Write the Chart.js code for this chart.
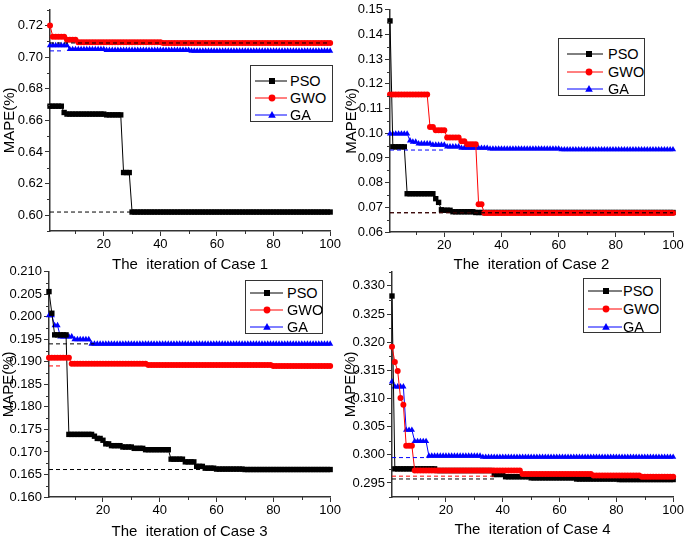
<!DOCTYPE html>
<html><head><meta charset="utf-8">
<script src="https://cdn.jsdelivr.net/npm/chart.js@4.4.1/dist/chart.umd.min.js"></script>
<style>
html,body{margin:0;padding:0;background:#fff;overflow:hidden;width:685px;height:536px;position:relative;}
canvas{position:absolute;}
.leg{position:absolute;border:1px solid #333;background:#fff;font-family:'Liberation Sans',Arial,sans-serif;font-size:14.5px;color:#000;box-sizing:border-box;}
.row{position:absolute;left:0;height:16px;line-height:16px;white-space:nowrap;}
.row svg{position:absolute;top:0;}
.row span{position:absolute;top:0;}
</style></head><body>
<canvas id="c1"></canvas><canvas id="c2"></canvas><canvas id="c3"></canvas><canvas id="c4"></canvas>
<script>
// ---------------- DATA ----------------
const seriesNames = ['PSO','GWO','GA'];
const iterations = Array.from({length:100},(_,i)=>i+1);
const xMajorTicks = [20,40,60,80,100];
const xMinorTicks = [10,30,50,70,90];

// Case 1
const case1PSO = [0.669,0.669,0.669,0.669,0.669,0.665,0.664,0.664,0.664,0.664,
0.664,0.664,0.664,0.664,0.664,0.664,0.664,0.664,0.664,0.664,
0.6635,0.6635,0.6635,0.6635,0.6635,0.6635,0.627,0.627,0.627,0.602,
0.602,0.602,0.602,0.602,0.602,0.602,0.602,0.602,0.602,0.602,
0.602,0.602,0.602,0.602,0.602,0.602,0.602,0.602,0.602,0.602,
0.602,0.602,0.602,0.602,0.602,0.602,0.602,0.602,0.602,0.602,
0.602,0.602,0.602,0.602,0.602,0.602,0.602,0.602,0.602,0.602,
0.602,0.602,0.602,0.602,0.602,0.602,0.602,0.602,0.602,0.602,
0.602,0.602,0.602,0.602,0.602,0.602,0.602,0.602,0.602,0.602,
0.602,0.602,0.602,0.602,0.602,0.602,0.602,0.602,0.602,0.602];
const case1GWO = [0.720,0.713,0.713,0.713,0.713,0.713,0.711,0.711,0.711,0.711,
0.7095,0.7095,0.7095,0.7095,0.7095,0.7095,0.7095,0.7095,0.7095,0.7095,
0.7095,0.7095,0.7095,0.7095,0.7095,0.7095,0.7095,0.7095,0.7095,0.7095,
0.7095,0.7095,0.7095,0.7095,0.7095,0.7095,0.7095,0.7095,0.7095,0.7095,
0.709,0.709,0.709,0.709,0.709,0.709,0.709,0.709,0.709,0.709,
0.709,0.709,0.709,0.709,0.709,0.709,0.709,0.709,0.709,0.709,
0.709,0.709,0.709,0.709,0.709,0.709,0.709,0.709,0.709,0.709,
0.709,0.709,0.709,0.709,0.709,0.709,0.709,0.709,0.709,0.709,
0.709,0.709,0.709,0.709,0.709,0.709,0.709,0.709,0.709,0.709,
0.709,0.709,0.709,0.709,0.709,0.709,0.709,0.709,0.709,0.709];
const case1GA = [0.7075,0.7075,0.7075,0.7075,0.7075,0.7075,0.7075,0.705,0.705,0.705,
0.705,0.705,0.705,0.705,0.705,0.705,0.705,0.705,0.705,0.705,
0.7045,0.7045,0.7045,0.7045,0.7045,0.7045,0.7045,0.7045,0.7045,0.7045,
0.7045,0.7045,0.7045,0.7045,0.7045,0.7045,0.7045,0.7045,0.7045,0.7045,
0.7045,0.7045,0.7045,0.7045,0.7045,0.7045,0.7045,0.7045,0.7045,0.7045,
0.704,0.704,0.704,0.704,0.704,0.704,0.704,0.704,0.704,0.704,
0.704,0.704,0.704,0.704,0.704,0.704,0.704,0.704,0.704,0.704,
0.704,0.704,0.704,0.704,0.704,0.704,0.704,0.704,0.704,0.704,
0.704,0.704,0.704,0.704,0.704,0.704,0.704,0.704,0.704,0.704,
0.704,0.704,0.704,0.704,0.704,0.704,0.704,0.704,0.704,0.704];
const case1RefValues = [0.602,0.709,0.704];
const case1RefEnds = [30,100,6];
const case1YMajor = [0.60,0.62,0.64,0.66,0.68,0.70,0.72];
const case1YMinor = [0.59,0.61,0.63,0.65,0.67,0.69,0.71,0.73];

// Case 2
const case2PSO = [0.1455,0.0945,0.0945,0.0945,0.0945,0.0945,0.0755,0.0755,0.0755,0.0755,
0.0755,0.0755,0.0755,0.0755,0.0755,0.0755,0.0735,0.0720,0.0690,0.0688,
0.0688,0.0688,0.0682,0.0682,0.0682,0.0682,0.0682,0.0682,0.0682,0.0682,
0.0679,0.0679,0.0679,0.0679,0.0679,0.0679,0.0679,0.0679,0.0679,0.0679,
0.0679,0.0679,0.0679,0.0679,0.0679,0.0679,0.0679,0.0679,0.0679,0.0679,
0.0679,0.0679,0.0679,0.0679,0.0679,0.0679,0.0679,0.0679,0.0679,0.0679,
0.0679,0.0679,0.0679,0.0679,0.0679,0.0679,0.0679,0.0679,0.0679,0.0679,
0.0679,0.0679,0.0679,0.0679,0.0679,0.0679,0.0679,0.0679,0.0679,0.0679,
0.0679,0.0679,0.0679,0.0679,0.0679,0.0679,0.0679,0.0679,0.0679,0.0679,
0.0679,0.0679,0.0679,0.0679,0.0679,0.0679,0.0679,0.0679,0.0679,0.0679];
const case2GWO = [0.1157,0.1157,0.1157,0.1157,0.1157,0.1157,0.1157,0.1157,0.1157,0.1157,
0.1157,0.1157,0.1157,0.1157,0.1025,0.1025,0.1012,0.1012,0.1012,0.1012,
0.0983,0.0983,0.0983,0.0983,0.0983,0.0968,0.0968,0.0955,0.0955,0.0955,
0.0955,0.0712,0.0712,0.0677,0.0677,0.0677,0.0677,0.0677,0.0677,0.0677,
0.0677,0.0677,0.0677,0.0677,0.0677,0.0677,0.0677,0.0677,0.0677,0.0677,
0.0677,0.0677,0.0677,0.0677,0.0677,0.0677,0.0677,0.0677,0.0677,0.0677,
0.0677,0.0677,0.0677,0.0677,0.0677,0.0677,0.0677,0.0677,0.0677,0.0677,
0.0677,0.0677,0.0677,0.0677,0.0677,0.0677,0.0677,0.0677,0.0677,0.0677,
0.0677,0.0677,0.0677,0.0677,0.0677,0.0677,0.0677,0.0677,0.0677,0.0677,
0.0677,0.0677,0.0677,0.0677,0.0677,0.0677,0.0677,0.0677,0.0677,0.0677];
const case2GA = [0.0998,0.0998,0.0998,0.0998,0.0998,0.0998,0.0998,0.0970,0.0965,0.0965,
0.0958,0.0958,0.0958,0.0958,0.0958,0.0953,0.0953,0.0953,0.0953,0.0953,
0.0946,0.0946,0.0946,0.0946,0.0946,0.0940,0.0940,0.0940,0.0940,0.0940,
0.0940,0.0940,0.0940,0.0940,0.0940,0.0937,0.0937,0.0937,0.0937,0.0937,
0.0937,0.0937,0.0937,0.0937,0.0937,0.0937,0.0937,0.0937,0.0937,0.0937,
0.0937,0.0937,0.0937,0.0937,0.0937,0.0937,0.0937,0.0937,0.0937,0.0937,
0.0934,0.0934,0.0934,0.0934,0.0934,0.0934,0.0934,0.0934,0.0934,0.0934,
0.0934,0.0934,0.0934,0.0934,0.0934,0.0934,0.0934,0.0934,0.0934,0.0934,
0.0934,0.0934,0.0934,0.0934,0.0934,0.0934,0.0934,0.0934,0.0934,0.0934,
0.0934,0.0934,0.0934,0.0934,0.0934,0.0934,0.0934,0.0934,0.0934,0.0934];
const case2RefValues = [0.0678,0.0678,0.0932];
const case2RefEnds = [100,100,20];
const case2YMajor = [0.06,0.07,0.08,0.09,0.10,0.11,0.12,0.13,0.14,0.15];
const case2YMinor = [0.065,0.075,0.085,0.095,0.105,0.115,0.125,0.135,0.145];

// Case 3
const case3PSO = [0.2056,0.2008,0.1960,0.1960,0.1960,0.1960,0.1960,0.1739,0.1739,0.1739,
0.1739,0.1739,0.1739,0.1739,0.1739,0.1739,0.1735,0.1730,0.1730,0.1726,
0.1718,0.1718,0.1714,0.1714,0.1714,0.1714,0.1711,0.1711,0.1711,0.1711,
0.1708,0.1708,0.1708,0.1708,0.1705,0.1705,0.1705,0.1705,0.1705,0.1705,
0.1705,0.1705,0.1705,0.1684,0.1684,0.1684,0.1684,0.1684,0.1678,0.1678,
0.1678,0.1678,0.1668,0.1668,0.1668,0.1664,0.1664,0.1664,0.1664,0.1662,
0.1662,0.1662,0.1662,0.1662,0.1662,0.1662,0.1662,0.1662,0.1662,0.1661,
0.1661,0.1661,0.1661,0.1661,0.1661,0.1661,0.1661,0.1661,0.1661,0.1661,
0.1661,0.1661,0.1661,0.1661,0.1661,0.1661,0.1661,0.1661,0.1661,0.1661,
0.1661,0.1661,0.1661,0.1661,0.1661,0.1661,0.1661,0.1661,0.1661,0.1661];
const case3GWO = [0.1909,0.1909,0.1909,0.1909,0.1909,0.1909,0.1909,0.1909,0.1896,0.1896,
0.1896,0.1896,0.1896,0.1896,0.1896,0.1896,0.1896,0.1896,0.1896,0.1896,
0.1896,0.1896,0.1896,0.1896,0.1896,0.1896,0.1896,0.1896,0.1896,0.1896,
0.1896,0.1896,0.1896,0.1896,0.1896,0.1893,0.1893,0.1893,0.1893,0.1893,
0.1893,0.1893,0.1893,0.1893,0.1893,0.1893,0.1893,0.1893,0.1893,0.1893,
0.1893,0.1893,0.1893,0.1893,0.1893,0.1893,0.1893,0.1893,0.1893,0.1893,
0.1893,0.1893,0.1893,0.1893,0.1893,0.1893,0.1893,0.1893,0.1893,0.1893,
0.1893,0.1893,0.1893,0.1893,0.1893,0.1893,0.1893,0.1893,0.1893,0.1891,
0.1891,0.1891,0.1891,0.1891,0.1891,0.1891,0.1891,0.1891,0.1891,0.1891,
0.1891,0.1891,0.1891,0.1891,0.1891,0.1891,0.1891,0.1891,0.1891,0.1891];
const case3GA = [0.2003,0.2003,0.1981,0.1981,0.1956,0.1956,0.1956,0.1956,0.1956,0.1950,
0.1950,0.1950,0.1950,0.1950,0.1950,0.1940,0.1940,0.1940,0.1940,0.1940,
0.1940,0.1940,0.1940,0.1940,0.1940,0.1940,0.1940,0.1940,0.1940,0.1940,
0.1940,0.1940,0.1940,0.1940,0.1940,0.1940,0.1940,0.1940,0.1940,0.1940,
0.1940,0.1940,0.1940,0.1940,0.1940,0.1940,0.1940,0.1940,0.1940,0.1940,
0.1940,0.1940,0.1940,0.1940,0.1940,0.1940,0.1940,0.1940,0.1940,0.1940,
0.1940,0.1940,0.1940,0.1940,0.1940,0.1940,0.1940,0.1940,0.1940,0.1940,
0.1940,0.1940,0.1940,0.1940,0.1940,0.1940,0.1940,0.1940,0.1940,0.1940,
0.1940,0.1940,0.1940,0.1940,0.1940,0.1940,0.1940,0.1940,0.1940,0.1940,
0.1940,0.1940,0.1940,0.1940,0.1940,0.1940,0.1940,0.1940,0.1940,0.1940];
const case3RefValues = [0.1661,0.1891,0.1940];
const case3RefEnds = [56,5,17];
const case3YMajor = [0.160,0.165,0.170,0.175,0.180,0.185,0.190,0.195,0.200,0.205,0.210];
const case3YMinor = [0.1625,0.1675,0.1725,0.1775,0.1825,0.1875,0.1925,0.1975,0.2025,0.2075];

// Case 4
const case4PSO = [0.3282,0.2975,0.2975,0.2975,0.2975,0.2975,0.2975,0.2975,0.2975,0.2975,
0.2975,0.2975,0.2975,0.2975,0.2975,0.2975,0.2972,0.2972,0.2972,0.2972,
0.2972,0.2972,0.2972,0.2972,0.2972,0.2972,0.2972,0.2972,0.2972,0.2972,
0.2972,0.2972,0.2972,0.2972,0.2972,0.2972,0.2965,0.2965,0.2965,0.2965,
0.2961,0.2961,0.2961,0.2961,0.2961,0.2961,0.2961,0.2961,0.2961,0.2959,
0.2959,0.2959,0.2959,0.2959,0.2959,0.2959,0.2959,0.2959,0.2959,0.2959,
0.2959,0.2959,0.2959,0.2959,0.2959,0.2957,0.2957,0.2957,0.2957,0.2957,
0.2957,0.2957,0.2957,0.2957,0.2957,0.2957,0.2957,0.2957,0.2957,0.2957,
0.2956,0.2956,0.2956,0.2956,0.2956,0.2956,0.2956,0.2956,0.2956,0.2956,
0.2956,0.2956,0.2956,0.2956,0.2956,0.2956,0.2956,0.2956,0.2956,0.2956];
const case4GWO = [0.3192,0.3165,0.3149,0.3101,0.3089,0.3016,0.3016,0.3016,0.2972,0.2972,
0.2972,0.2972,0.2972,0.2972,0.2972,0.2972,0.2972,0.2972,0.2972,0.2972,
0.2972,0.2972,0.2972,0.2972,0.2972,0.2972,0.2972,0.2972,0.2972,0.2972,
0.2972,0.2972,0.2972,0.2972,0.2972,0.2972,0.2972,0.2972,0.2972,0.2972,
0.2972,0.2972,0.2972,0.2972,0.2972,0.2972,0.2966,0.2966,0.2966,0.2966,
0.2966,0.2966,0.2966,0.2966,0.2966,0.2966,0.2966,0.2966,0.2966,0.2966,
0.2966,0.2966,0.2966,0.2966,0.2966,0.2966,0.2966,0.2966,0.2966,0.2966,
0.2966,0.2963,0.2963,0.2963,0.2963,0.2963,0.2963,0.2963,0.2963,0.2963,
0.2963,0.2963,0.2963,0.2963,0.2963,0.2963,0.2963,0.2963,0.2961,0.2961,
0.2961,0.2961,0.2961,0.2961,0.2961,0.2961,0.2961,0.2961,0.2961,0.2961];
const case4GA = [0.3130,0.3121,0.3121,0.3121,0.3121,0.3044,0.3044,0.3044,0.3024,0.3024,
0.3024,0.3024,0.3024,0.2998,0.2998,0.2998,0.2998,0.2998,0.2998,0.2998,
0.2998,0.2998,0.2998,0.2998,0.2998,0.2998,0.2998,0.2998,0.2998,0.2998,
0.2998,0.2998,0.2996,0.2996,0.2996,0.2996,0.2996,0.2996,0.2996,0.2996,
0.2996,0.2996,0.2996,0.2996,0.2996,0.2996,0.2996,0.2996,0.2996,0.2996,
0.2996,0.2996,0.2996,0.2996,0.2996,0.2996,0.2996,0.2996,0.2996,0.2996,
0.2996,0.2996,0.2996,0.2996,0.2996,0.2996,0.2996,0.2996,0.2996,0.2996,
0.2996,0.2996,0.2996,0.2996,0.2996,0.2996,0.2996,0.2996,0.2996,0.2996,
0.2996,0.2996,0.2996,0.2996,0.2996,0.2996,0.2996,0.2996,0.2996,0.2996,
0.2996,0.2996,0.2996,0.2996,0.2996,0.2996,0.2996,0.2996,0.2996,0.2996];
const case4RefValues = [0.2957,0.2962,0.2995];
const case4RefEnds = [37,37,14];
const case4YMajor = [0.295,0.300,0.305,0.310,0.315,0.320,0.325,0.330];
const case4YMinor = [0.2925,0.2975,0.3025,0.3075,0.3125,0.3175,0.3225,0.3275,0.3325];

// ---------------- DRAWING ----------------
const FONT = "'Liberation Sans', Arial, sans-serif";
const AX = '#333';
const minorTicksPlugin = {
  id: 'minorTicks',
  afterDraw(chart, args, opts) {
    const ctx = chart.ctx, xs = chart.scales.x, ys = chart.scales.y, ca = chart.chartArea;
    ctx.save(); ctx.strokeStyle = AX; ctx.lineWidth = 1;
    for (const v of opts.x || []) {
      const px = Math.round(xs.getPixelForValue(v)) + 0.5;
      ctx.beginPath(); ctx.moveTo(px, ca.bottom); ctx.lineTo(px, ca.bottom + 3); ctx.stroke();
    }
    for (const v of opts.y || []) {
      if (v < ys.min - 1e-9 || v > ys.max + 1e-9) continue;
      const py = Math.round(ys.getPixelForValue(v)) + 0.5;
      ctx.beginPath(); ctx.moveTo(ca.left, py); ctx.lineTo(ca.left - 3, py); ctx.stroke();
    }
    ctx.restore();
  }
};

function pts(vals){ return vals.map((v,i)=>({x: iterations[i], y: v})); }

function makeChart(cfg){
  const cv = document.getElementById(cfg.id);
  cv.style.left = cfg.box[0]+'px'; cv.style.top = cfg.box[1]+'px';
  cv.width = cfg.box[2]; cv.height = cfg.box[3];
  const markerDs = (label, vals, color, style, r, order) => ({
    label, data: pts(vals), borderColor: color, backgroundColor: color,
    borderWidth: 1, pointStyle: style, pointRadius: r, pointBorderWidth: 0,
    pointBackgroundColor: color, pointHoverRadius: r, order, clip: false, tension: 0
  });
  const refDs = (v, end, color) => ({
    label: 'ref', data: [{x: iterations[0], y: v}, {x: end, y: v}],
    borderColor: color, borderWidth: 1, borderDash: [4,3], pointRadius: 0, order: 0, tension: 0
  });
  const datasets = [
    markerDs(seriesNames[0], cfg.pso, '#000000', 'rect', 3.8, 2),
    markerDs(seriesNames[1], cfg.gwo, '#ff0000', 'circle', 3.0, 1),
    markerDs(seriesNames[2], cfg.ga, '#0000ff', 'triangle', 3.6, 3),
  ];
  cfg.refValues.forEach((v,i)=> datasets.push(refDs(v, cfg.refEnds[i], cfg.refColors[i])));
  new Chart(cv, {
    type: 'line',
    data: { datasets },
    plugins: [minorTicksPlugin],
    options: {
      responsive: false, animation: false, devicePixelRatio: 1,
      layout: { padding: cfg.pad },
      plugins: { legend: {display:false}, tooltip:{enabled:false},
        minorTicks: { x: xMinorTicks, y: cfg.yMinor } },
      scales: {
        x: { type: 'linear', min: 1, max: 100,
          afterFit: s => { s.height = cfg.xH; },
          afterBuildTicks: s => { s.ticks = xMajorTicks.map(v=>({value:v})); },
          grid: { drawOnChartArea: false, drawTicks: true, tickLength: 5, color: AX, lineWidth: 1 },
          border: { display: true, color: AX, width: 1.5 },
          ticks: { color: '#000', font: {family: FONT, size: 13}, padding: 1, maxRotation: 0 },
          title: { display: true, text: cfg.xTitle, color: '#000', font: {family: FONT, size: 15}, padding: {top:0, bottom: cfg.xTitlePad} }
        },
        y: { type: 'linear', min: cfg.yMin, max: cfg.yMax,
          afterFit: s => { s.width = cfg.yW; },
          afterBuildTicks: s => { s.ticks = cfg.yMajor.map(v=>({value:v})); },
          grid: { drawOnChartArea: false, drawTicks: true, tickLength: 5, color: AX, lineWidth: 1 },
          border: { display: true, color: AX, width: 1.5 },
          ticks: { color: '#000', font: {family: FONT, size: 13}, padding: 2,
            callback: v => v.toFixed(cfg.dec) },
          title: { display: true, text: 'MAPE(%)', color: '#000', font: {family: FONT, size: 15}, padding: {top: cfg.yTitlePad, bottom: 0} }
        }
      }
    }
  });
}

makeChart({ id:'c1', box:[0,0,342,276], pad:{left:0,top:5,right:9,bottom:0}, xH:45, yW:50,
  pso: case1PSO, gwo: case1GWO, ga: case1GA, refValues: case1RefValues, refEnds: case1RefEnds,
  refColors: ['#000','#000','#0000ff'], yMin:0.59, yMax:0.73, yMajor: case1YMajor, yMinor: case1YMinor,
  dec:2, xTitle:'The  iteration of Case 1', xTitlePad:2, yTitlePad:1 });
makeChart({ id:'c2', box:[342,0,343,276], pad:{left:0,top:6,right:12,bottom:0}, xH:44, yW:48,
  pso: case2PSO, gwo: case2GWO, ga: case2GA, refValues: case2RefValues, refEnds: case2RefEnds,
  refColors: ['#300','#300','#0000ff'], yMin:0.06, yMax:0.15, yMajor: case2YMajor, yMinor: case2YMinor,
  dec:2, xTitle:'The  iteration of Case 2', xTitlePad:2, yTitlePad:1 });
makeChart({ id:'c3', box:[0,262,342,281], pad:{left:0,top:9,right:10,bottom:0}, xH:46, yW:49,
  pso: case3PSO, gwo: case3GWO, ga: case3GA, refValues: case3RefValues, refEnds: case3RefEnds,
  refColors: ['#000','#ff0000','#000'], yMin:0.160, yMax:0.210, yMajor: case3YMajor, yMinor: case3YMinor,
  dec:3, xTitle:'The  iteration of Case 3', xTitlePad:2, yTitlePad:0 });
makeChart({ id:'c4', box:[342,262,343,281], pad:{left:0,top:9,right:11,bottom:0}, xH:46, yW:50,
  pso: case4PSO, gwo: case4GWO, ga: case4GA, refValues: case4RefValues, refEnds: case4RefEnds,
  refColors: ['#000','#ff0000','#0000ff'], yMin:0.2925, yMax:0.3325, yMajor: case4YMajor, yMinor: case4YMinor,
  dec:3, xTitle:'The  iteration of Case 4', xTitlePad:4, yTitlePad:0 });

// ---------------- LEGENDS (HTML) ----------------
function marker(i){
  if (i===0) return '<rect x="-3" y="-3" width="6" height="6" fill="#000"/>';
  if (i===1) return '<circle cx="0" cy="0" r="3.4" fill="#ff0000"/>';
  return '<polygon points="0,-4 3.8,2.8 -3.8,2.8" fill="#0000ff"/>';
}
const lineColors = ['#000','#ff0000','#0000ff'];
function legend(box, rowsY, lx0, lx1, mx, tx){
  const d = document.createElement('div'); d.className = 'leg';
  d.style.left = box[0]+'px'; d.style.top = box[1]+'px'; d.style.width = box[2]+'px'; d.style.height = box[3]+'px';
  seriesNames.forEach((n,i)=>{
    const r = document.createElement('div'); r.className='row';
    r.style.top = (rowsY[i]-8)+'px'; r.style.width = '100%';
    r.innerHTML = '<svg width="'+(lx1+2)+'" height="16"><line x1="'+lx0+'" y1="8" x2="'+lx1+'" y2="8" stroke="'+lineColors[i]+'" stroke-width="1"/><g transform="translate('+mx+',8)">'+marker(i)+'</g></svg><span style="left:'+tx+'px">'+n+'</span>';
    d.appendChild(r);
  });
  document.body.appendChild(d);
}
legend([250,65,83,57],[15,31.5,49],4,36,21,39);
legend([558,38,87,58],[15,33,49.5],8,44,30,49);
legend([245,280,78,54],[11.5,28.5,46],4,37,21,41);
legend([583,278,78,55],[12,30,48],4,38,22,39);
</script>
</body></html>
